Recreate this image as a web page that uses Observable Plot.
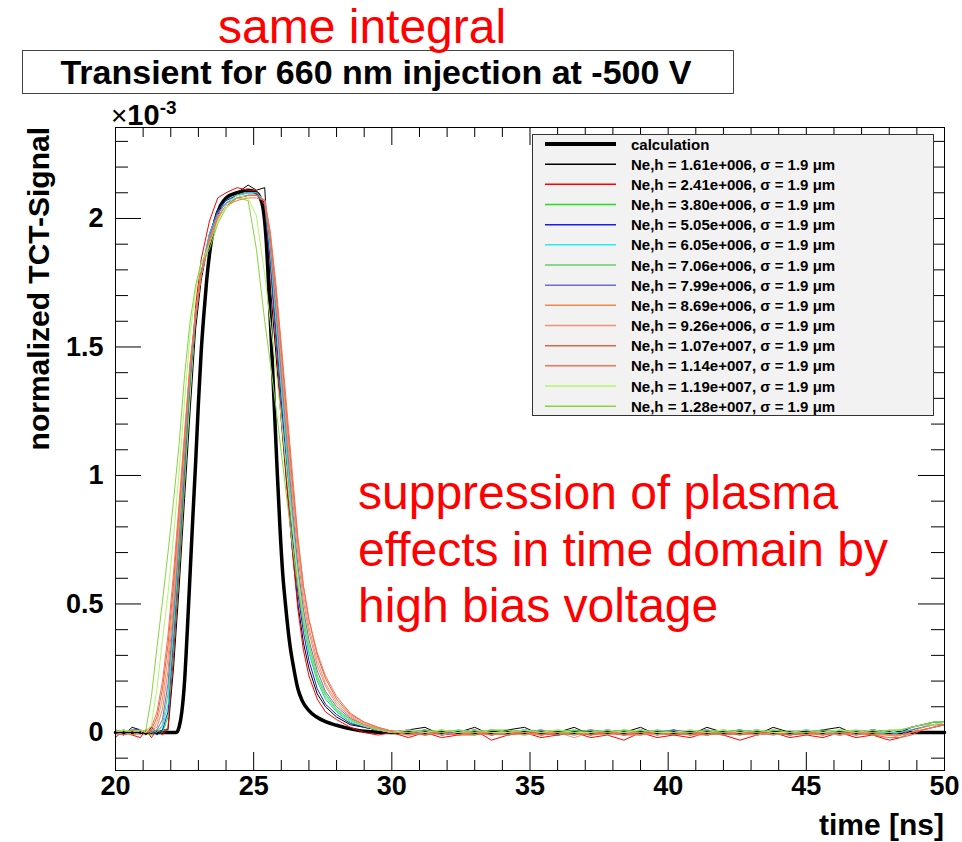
<!DOCTYPE html>
<html>
<head>
<meta charset="utf-8">
<script src="https://cdn.jsdelivr.net/npm/d3@7"></script>
<script src="https://cdn.jsdelivr.net/npm/@observablehq/plot@0.6"></script>
<style>
html, body { margin: 0; padding: 0; background: #fff; }
#chart svg { display: block; }
</style>
</head>
<body>
<div id="chart"></div>
<script>
// ---------------- data (y in units of 1e-3) ----------------
const time = [20.0, 20.3, 20.6,
  20.9, 21.1, 21.3, 21.5, 21.7, 21.9, 22.1, 22.3, 22.5, 22.7, 22.9, 23.1, 23.4, 23.7, 24.0, 24.4, 24.8,
  25.1, 25.4, 25.6, 25.8, 26.0, 26.2, 26.4, 26.6, 26.8, 27.0, 27.3, 27.6, 28.0, 28.5, 29.0, 29.5, 30.0,
  30.6, 31.2, 31.8, 32.4, 33.0, 33.6, 34.2, 34.8, 35.4, 36.0, 36.6, 37.2, 37.8, 38.4, 39.0,
  39.6, 40.2, 40.8, 41.4, 42.0, 42.6, 43.2, 43.8, 44.4, 45.0, 45.6, 46.2, 46.8, 47.4, 48.0,
  48.4, 48.8, 49.2, 49.6, 50.0];

const calcTime = [20, 22.2, 22.3, 22.4, 22.5, 22.6, 22.7, 22.8, 22.9, 23.0, 23.1, 23.2, 23.3, 23.45, 23.6, 23.8, 24.0, 24.4, 24.8,
  25.1, 25.3, 25.45, 25.55, 25.65, 25.75, 25.85, 25.95, 26.05, 26.15, 26.3, 26.45, 26.6, 26.75, 27.0, 27.25, 27.6, 28.0, 28.5, 29.0, 30.0, 50.0];
const calcValue = [0, 0, 0.02, 0.08, 0.20, 0.40, 0.62, 0.84, 1.05, 1.28, 1.48, 1.63, 1.76, 1.90, 1.99, 2.05, 2.08, 2.10, 2.11,
  2.10, 2.06, 1.92, 1.72, 1.50, 1.26, 1.02, 0.80, 0.62, 0.50, 0.35, 0.25, 0.17, 0.125, 0.085, 0.062, 0.042, 0.028, 0.014, 0.005, 0, 0];

const seriesNames = [
  "Ne,h = 1.61e+006, σ = 1.9 μm", "Ne,h = 2.41e+006, σ = 1.9 μm", "Ne,h = 3.80e+006, σ = 1.9 μm",
  "Ne,h = 5.05e+006, σ = 1.9 μm", "Ne,h = 6.05e+006, σ = 1.9 μm", "Ne,h = 7.06e+006, σ = 1.9 μm",
  "Ne,h = 7.99e+006, σ = 1.9 μm", "Ne,h = 8.69e+006, σ = 1.9 μm", "Ne,h = 9.26e+006, σ = 1.9 μm",
  "Ne,h = 1.07e+007, σ = 1.9 μm", "Ne,h = 1.14e+007, σ = 1.9 μm", "Ne,h = 1.19e+007, σ = 1.9 μm",
  "Ne,h = 1.28e+007, σ = 1.9 μm"];
const seriesColors = ["#000000", "#ff0000", "#22dd22", "#1a1aee", "#22eeee", "#66cc66", "#6a6ad8",
  "#f08848", "#f4907a", "#e2643e", "#fa7052", "#b4f56a", "#86d43c"];

const s1 = [0.01, -0.01, 0.02,
  0.01, -0.01, 0.02, 0.00, 0.01, 0.01, 0.25, 0.56, 0.91, 1.25, 1.57, 1.76, 1.93, 2.03, 2.08, 2.10, 2.13,
  2.11, 2.12, 1.74, 1.48, 1.21, 0.96, 0.71, 0.50, 0.35, 0.25, 0.15, 0.10, 0.06, 0.03, 0.02, 0.01, 0.00,
  0.01, 0.02, -0.01, 0.00, 0.02, -0.01, 0.01, 0.02, -0.01, 0.00, 0.02, -0.01, 0.01, 0.00, 0.02,
  -0.01, 0.01, -0.01, 0.02, 0.00, 0.01, -0.01, 0.02, 0.00, -0.01, 0.01, 0.02, -0.01, 0.01, 0.00,
  0.00, 0.02, 0.03, 0.04, 0.04];
const s2 = [-0.02, 0.01, -0.01,
  -0.02, 0.01, -0.02, 0.01, -0.01, 0.02, 0.30, 0.63, 1.00, 1.38, 1.66, 1.84, 1.99, 2.08, 2.10, 2.12, 2.11,
  2.11, 2.05, 1.82, 1.53, 1.24, 0.97, 0.71, 0.48, 0.32, 0.22, 0.13, 0.08, 0.05, 0.02, 0.00, -0.01, 0.00,
  -0.02, 0.00, -0.02, -0.01, 0.01, -0.03, -0.01, 0.00, -0.02, -0.01, 0.00, -0.02, -0.01, -0.03, 0.00,
  -0.02, -0.01, -0.02, 0.00, -0.01, -0.03, -0.01, 0.00, -0.02, -0.01, -0.02, 0.00, -0.02, -0.01, -0.03,
  -0.02, 0.00, 0.01, 0.02, 0.03];
const s3 = [0.00, 0.01, -0.01,
  0.00, 0.01, -0.01, 0.01, 0.00, 0.06, 0.35, 0.66, 1.00, 1.34, 1.61, 1.78, 1.94, 2.03, 2.07, 2.09, 2.10,
  2.10, 2.06, 1.85, 1.58, 1.31, 1.05, 0.80, 0.57, 0.42, 0.31, 0.20, 0.13, 0.08, 0.04, 0.02, 0.01, 0.00,
  0.00, -0.01, 0.01, 0.00, -0.01, 0.01, 0.00, 0.01, -0.01, 0.00, 0.01, 0.00, -0.01, 0.01, 0.00,
  0.00, 0.01, -0.01, 0.00, 0.01, 0.00, -0.01, 0.01, 0.00, 0.00, -0.01, 0.01, 0.00, -0.01, 0.00,
  0.01, 0.02, 0.03, 0.04, 0.04];
const s4 = [0.01, 0.00, 0.01,
  0.01, 0.00, 0.01, -0.01, 0.01, 0.08, 0.37, 0.70, 1.05, 1.38, 1.62, 1.79, 1.94, 2.03, 2.07, 2.09, 2.10,
  2.10, 2.06, 1.84, 1.57, 1.29, 1.03, 0.77, 0.54, 0.39, 0.28, 0.17, 0.11, 0.07, 0.035, 0.02, 0.01, 0.00,
  0.00, 0.01, -0.01, 0.00, 0.01, -0.01, 0.00, 0.00, 0.01, -0.01, 0.00, 0.01, 0.00, -0.01, 0.01,
  0.00, -0.01, 0.00, 0.01, -0.01, 0.00, 0.01, 0.00, -0.01, 0.00, 0.01, -0.01, 0.00, 0.01, 0.00,
  0.00, 0.02, 0.03, 0.03, 0.04];
const s5 = [0.00, 0.01, 0.00,
  0.00, 0.01, 0.00, 0.01, 0.02, 0.11, 0.40, 0.72, 1.07, 1.39, 1.63, 1.79, 1.94, 2.02, 2.06, 2.09, 2.10,
  2.10, 2.07, 1.87, 1.61, 1.34, 1.08, 0.82, 0.59, 0.44, 0.32, 0.21, 0.14, 0.085, 0.045, 0.025, 0.01, 0.00,
  0.01, 0.00, -0.01, 0.01, 0.00, 0.00, -0.01, 0.01, 0.00, 0.00, -0.01, 0.00, 0.01, 0.00, -0.01,
  0.01, 0.00, 0.00, -0.01, 0.00, 0.01, 0.00, -0.01, 0.00, 0.01, 0.00, 0.00, -0.01, 0.00, 0.00,
  0.00, 0.01, 0.02, 0.03, 0.04];
const s6 = [0.01, 0.00, 0.00,
  0.01, 0.00, 0.01, 0.00, 0.03, 0.15, 0.43, 0.74, 1.08, 1.40, 1.63, 1.79, 1.93, 2.02, 2.06, 2.08, 2.09,
  2.09, 2.07, 1.89, 1.64, 1.37, 1.11, 0.85, 0.62, 0.46, 0.34, 0.22, 0.15, 0.09, 0.05, 0.025, 0.01, 0.00,
  0.00, 0.00, 0.01, -0.01, 0.00, 0.01, 0.00, -0.01, 0.00, 0.01, 0.00, -0.01, 0.00, 0.00, 0.01,
  -0.01, 0.00, 0.01, 0.00, 0.00, -0.01, 0.01, 0.00, 0.00, -0.01, 0.00, 0.01, 0.00, 0.00, -0.01,
  0.00, 0.01, 0.02, 0.03, 0.03];
const s7 = [0.00, -0.01, 0.01,
  0.00, 0.01, 0.00, 0.01, 0.05, 0.19, 0.46, 0.76, 1.09, 1.40, 1.63, 1.79, 1.93, 2.02, 2.06, 2.08, 2.09,
  2.09, 2.07, 1.90, 1.66, 1.40, 1.14, 0.88, 0.65, 0.48, 0.36, 0.24, 0.16, 0.10, 0.055, 0.03, 0.015, 0.00,
  0.01, -0.01, 0.00, 0.00, 0.01, -0.01, 0.00, 0.01, 0.00, -0.01, 0.00, 0.00, 0.01, -0.01, 0.00,
  0.00, 0.01, 0.00, -0.01, 0.00, 0.01, -0.01, 0.00, 0.00, 0.01, 0.00, -0.01, 0.00, 0.01, 0.00,
  -0.01, 0.01, 0.02, 0.03, 0.03];
const s8 = [0.00, 0.01, -0.01,
  0.01, 0.00, 0.01, 0.02, 0.09, 0.24, 0.50, 0.79, 1.11, 1.41, 1.63, 1.78, 1.92, 2.01, 2.05, 2.08, 2.09,
  2.09, 2.07, 1.92, 1.69, 1.43, 1.17, 0.92, 0.69, 0.51, 0.39, 0.26, 0.18, 0.11, 0.06, 0.03, 0.015, 0.005,
  0.00, -0.01, 0.00, -0.01, 0.00, 0.00, -0.01, 0.00, -0.01, 0.00, 0.00, -0.01, 0.00, 0.00, -0.01,
  0.00, -0.01, 0.00, 0.00, -0.01, 0.00, -0.01, 0.00, -0.01, 0.00, 0.00, -0.01, 0.00, -0.01, -0.01,
  -0.01, 0.00, 0.02, 0.03, 0.03];
const s9 = [-0.01, 0.00, 0.01,
  0.00, 0.01, 0.00, 0.04, 0.13, 0.29, 0.54, 0.82, 1.13, 1.42, 1.63, 1.78, 1.92, 2.01, 2.05, 2.08, 2.09,
  2.09, 2.07, 1.93, 1.71, 1.46, 1.20, 0.95, 0.72, 0.54, 0.41, 0.28, 0.19, 0.12, 0.065, 0.035, 0.015, 0.005,
  -0.01, 0.00, -0.01, 0.00, 0.00, -0.01, 0.00, -0.01, 0.00, 0.00, -0.02, 0.00, -0.01, 0.00, 0.00,
  -0.01, 0.00, -0.01, -0.01, 0.00, 0.00, -0.01, 0.00, 0.00, -0.01, 0.00, -0.01, 0.00, 0.00, -0.01,
  -0.02, 0.00, 0.01, 0.02, 0.03];
const s10 = [0.00, -0.01, 0.00,
  0.01, 0.00, 0.01, 0.06, 0.17, 0.34, 0.58, 0.86, 1.15, 1.43, 1.63, 1.78, 1.91, 2.00, 2.05, 2.08, 2.09,
  2.09, 2.07, 1.94, 1.73, 1.49, 1.23, 0.98, 0.75, 0.57, 0.44, 0.30, 0.21, 0.13, 0.07, 0.04, 0.02, 0.005,
  0.00, -0.01, 0.00, -0.01, -0.01, 0.00, -0.01, 0.00, 0.00, -0.01, 0.00, -0.01, 0.00, -0.01, 0.00,
  0.00, -0.01, 0.00, -0.01, 0.00, -0.01, 0.00, 0.00, -0.01, 0.00, -0.01, 0.00, 0.00, -0.01, -0.02,
  -0.02, -0.01, 0.01, 0.02, 0.03];
const s11 = [0.01, 0.00, -0.01,
  0.00, 0.01, 0.02, 0.08, 0.20, 0.38, 0.62, 0.89, 1.17, 1.44, 1.63, 1.78, 1.91, 2.00, 2.05, 2.07, 2.08,
  2.08, 2.07, 1.95, 1.75, 1.51, 1.26, 1.01, 0.76, 0.57, 0.44, 0.31, 0.22, 0.14, 0.075, 0.04, 0.02, 0.005,
  -0.01, 0.00, 0.00, -0.01, 0.00, -0.01, 0.00, 0.00, -0.01, 0.00, -0.01, 0.00, 0.00, -0.01, -0.01,
  0.00, 0.00, -0.01, 0.00, -0.01, 0.00, 0.00, -0.01, 0.00, 0.00, -0.01, 0.00, -0.01, 0.00, -0.01,
  -0.01, 0.00, 0.01, 0.02, 0.03];
const s12 = [0.00, 0.01, 0.00,
  0.01, 0.00, 0.03, 0.17, 0.36, 0.54, 0.76, 1.01, 1.29, 1.55, 1.72, 1.82, 1.90, 1.99, 2.05, 2.09, 2.08,
  2.01, 1.78, 1.60, 1.42, 1.22, 1.01, 0.80, 0.60, 0.45, 0.34, 0.22, 0.15, 0.09, 0.05, 0.025, 0.01, 0.00,
  0.01, 0.00, 0.01, 0.00, 0.01, 0.00, 0.00, 0.01, 0.00, 0.01, 0.00, 0.00, 0.01, 0.00, 0.01,
  0.00, 0.00, 0.01, 0.00, 0.01, 0.00, 0.01, 0.00, 0.00, 0.01, 0.00, 0.01, 0.00, 0.01, 0.00,
  0.01, 0.02, 0.03, 0.03, 0.04];
const s13 = [0.01, 0.00, 0.01,
  0.00, 0.01, 0.14, 0.33, 0.51, 0.70, 0.90, 1.12, 1.39, 1.60, 1.74, 1.83, 1.88, 1.98, 2.04, 2.08, 2.07,
  1.88, 1.60, 1.44, 1.27, 1.09, 0.91, 0.73, 0.57, 0.44, 0.34, 0.22, 0.15, 0.09, 0.05, 0.025, 0.01, 0.00,
  0.00, 0.01, 0.00, 0.01, 0.00, 0.01, 0.01, 0.00, 0.01, 0.00, 0.00, 0.01, 0.00, 0.01, 0.00,
  0.01, 0.00, 0.00, 0.01, 0.00, 0.01, 0.00, 0.01, 0.00, 0.00, 0.01, 0.00, 0.01, 0.00, 0.01,
  0.01, 0.02, 0.03, 0.04, 0.04];
const seriesValues = [s1, s2, s3, s4, s5, s6, s7, s8, s9, s10, s11, s12, s13];

const xMajor = [20, 25, 30, 35, 40, 45, 50];
const xMinor = [21, 22, 23, 24, 26, 27, 28, 29, 31, 32, 33, 34, 36, 37, 38, 39, 41, 42, 43, 44, 46, 47, 48, 49];
const yMajor = [0, 0.5, 1, 1.5, 2];
const yMinor = [-0.1, 0.1, 0.2, 0.3, 0.4, 0.6, 0.7, 0.8, 0.9, 1.1, 1.2, 1.3, 1.4, 1.6, 1.7, 1.8, 1.9, 2.1, 2.2, 2.3];

const titleText = "Transient for 660 nm injection at -500 V";
const topNote = "same integral";
const noteLines = ["suppression of plasma", "effects in time domain by", "high bias voltage"];
const calcLabel = "calculation";

// ---------------- layout ----------------
const W = 962, H = 842;
const mL = 115, mR = 18, mT = 127, mB = 72;
const fw = W - mL - mR, fh = H - mT - mB;
const FONT = "'Liberation Sans', Arial, Helvetica, sans-serif";

const marks = [];
marks.push(Plot.line(calcTime.map((t, i) => ({t, v: calcValue[i]})),
  {x: "t", y: "v", stroke: "#000", strokeWidth: 3.5, curve: "monotone-x"}));
seriesValues.forEach((vals, i) => {
  marks.push(Plot.line(time.map((t, j) => ({t, v: vals[j]})),
    {x: "t", y: "v", stroke: seriesColors[i], strokeWidth: 1}));
});
// ROOT-style inward ticks on all four sides
marks.push(Plot.tickX(xMajor, {x: d => d, insetTop: fh - 18, stroke: "#000"}));
marks.push(Plot.tickX(xMinor, {x: d => d, insetTop: fh - 10, stroke: "#000"}));
marks.push(Plot.tickX(xMajor, {x: d => d, insetBottom: fh - 18, stroke: "#000"}));
marks.push(Plot.tickX(xMinor, {x: d => d, insetBottom: fh - 10, stroke: "#000"}));
marks.push(Plot.tickY(yMajor, {y: d => d, insetRight: fw - 26, stroke: "#000"}));
marks.push(Plot.tickY(yMinor, {y: d => d, insetRight: fw - 13, stroke: "#000"}));
marks.push(Plot.tickY(yMajor, {y: d => d, insetLeft: fw - 26, stroke: "#000"}));
marks.push(Plot.tickY(yMinor, {y: d => d, insetLeft: fw - 13, stroke: "#000"}));
marks.push(Plot.frame({stroke: "#000", strokeWidth: 1}));

const chart = Plot.plot({
  width: W, height: H,
  marginLeft: mL, marginRight: mR, marginTop: mT, marginBottom: mB,
  style: {background: "white", fontFamily: FONT, fontSize: "27px", fontWeight: "bold", color: "#000"},
  x: {domain: [20, 50], ticks: xMajor, tickSize: 0, tickPadding: 5, tickFormat: d => String(d), label: null},
  y: {domain: [-0.148, 2.354], ticks: yMajor, tickSize: 0, tickPadding: 12, tickFormat: d => String(d), label: null},
  marks
});
document.getElementById("chart").appendChild(chart);

// ---------------- annotations ----------------
const svg = d3.select(chart);
const txt = (x, y, s, size, weight, fill, anchor) => svg.append("text")
  .attr("x", x).attr("y", y).attr("font-family", FONT).attr("font-size", size)
  .attr("font-weight", weight).attr("fill", fill).attr("text-anchor", anchor).text(s);

// title box
svg.append("rect").attr("x", 22.5).attr("y", 50.5).attr("width", 711).attr("height", 43)
  .attr("fill", "white").attr("stroke", "#444").attr("stroke-width", 1);
txt(376, 84, titleText, 34, "bold", "#000", "middle");
// red notes
txt(218, 43, topNote, 48, "normal", "#ff0000", "start");
noteLines.forEach((s, i) => txt(358, 509 + i * 56.5, s, 48, "normal", "#ff0000", "start"));

// exponent
const ex = svg.append("text").attr("x", 111).attr("y", 125).attr("font-family", FONT)
  .attr("fill", "#000").attr("text-anchor", "start");
ex.append("tspan").attr("font-size", 28).attr("font-weight", "normal").text("×");
ex.append("tspan").attr("font-size", 29).attr("font-weight", "bold").text("10");
ex.append("tspan").attr("font-size", 19).attr("font-weight", "bold").attr("dy", -11).text("-3");

// axis titles
svg.append("text").attr("transform", `translate(49,${mT}) rotate(-90)`)
  .attr("font-family", FONT).attr("font-size", 30).attr("font-weight", "bold")
  .attr("fill", "#000").attr("text-anchor", "end").text("normalized TCT-Signal");
txt(W - mR, 835, "time [ns]", 30, "bold", "#000", "end");

// legend
const lg = svg.append("g");
lg.append("rect").attr("x", 532.5).attr("y", 134.5).attr("width", 401).attr("height", 281)
  .attr("fill", "#f2f2f2").attr("stroke", "#333").attr("stroke-width", 1);
const rows = [{label: calcLabel, color: "#000", w: 4}].concat(
  seriesNames.map((n, i) => ({label: n, color: seriesColors[i], w: 1.5})));
rows.forEach((r, i) => {
  const y = 144 + i * 20.17;
  lg.append("line").attr("x1", 545).attr("x2", 616).attr("y1", y).attr("y2", y)
    .attr("stroke", r.color).attr("stroke-width", r.w);
  lg.append("text").attr("x", 631).attr("y", y + 5.5).attr("font-family", FONT)
    .attr("font-size", 15).attr("font-weight", "bold").attr("fill", "#000")
    .attr("text-anchor", "start").text(r.label);
});
</script>
</body>
</html>
